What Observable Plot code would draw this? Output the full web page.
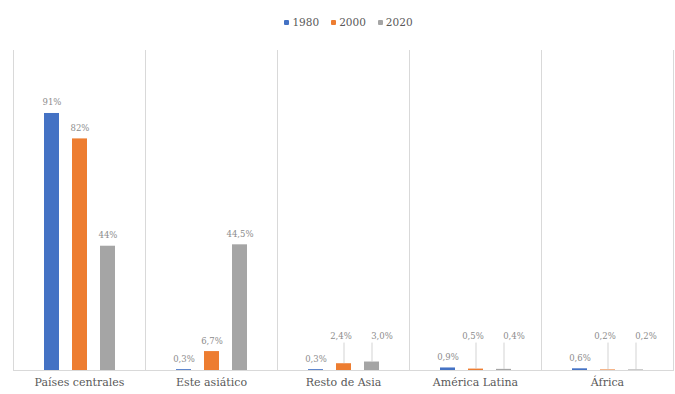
<!DOCTYPE html>
<html>
<head>
<meta charset="utf-8">
<script src="https://cdn.jsdelivr.net/npm/d3@7"></script>
<script src="https://cdn.jsdelivr.net/npm/@observablehq/plot@0.6"></script>
<style>
  body { margin: 0; background: #fff; font-family: "DejaVu Serif", serif; }
  #legend { height: 44px; display: flex; justify-content: center; align-items: center; gap: 12px; padding-left: 22px; box-sizing: border-box; font-size: 10.5px; color: #595959; font-family: "DejaVu Serif", serif; }
  #legend span.item { display: flex; align-items: center; gap: 3px; }
  #legend i { display: inline-block; width: 5px; height: 5px; border-radius: 1px; }
  svg { display: block; }
  #chart svg, #chart svg text { font-family: "DejaVu Serif", serif !important; }
</style>
</head>
<body>
<div id="legend"></div>
<div id="chart"></div>
<script>
const categories = ["Países centrales", "Este asiático", "Resto de Asia", "América Latina", "África"];
const years = ["1980", "2000", "2020"];
const colors = ["#4472C4", "#ED7D31", "#A5A5A5"];
const values1980 = [91, 0.3, 0.3, 0.9, 0.6];
const values2000 = [82, 6.7, 2.4, 0.5, 0.2];
const values2020 = [44, 44.5, 3.0, 0.4, 0.2];
const labels1980 = ["91%", "0,3%", "0,3%", "0,9%", "0,6%"];
const labels2000 = ["82%", "6,7%", "2,4%", "0,5%", "0,2%"];
const labels2020 = ["44%", "44,5%", "3,0%", "0,4%", "0,2%"];

const series = [values1980, values2000, values2020];
const seriesLabels = [labels1980, labels2000, labels2020];
const data = [];
categories.forEach((c, i) => years.forEach((y, j) => {
  data.push({category: c, year: y, value: series[j][i], label: seriesLabels[j][i]});
}));

const LIFT = 11.2;
const lifted = d => d.year !== "1980" && d.value < 5;
const labelData = data.map(d => ({...d, ly: lifted(d) ? LIFT : d.value, lifted: lifted(d)}));

const legend = document.getElementById("legend");
years.forEach((y, j) => {
  const s = document.createElement("span");
  s.className = "item";
  s.innerHTML = `<i style="background:${colors[j]}"></i>${y}`;
  legend.appendChild(s);
});

const chart = Plot.plot({
  width: 675,
  height: 350,
  marginTop: 6,
  marginBottom: 24,
  marginLeft: 12,
  marginRight: 1,
  style: {fontFamily: "'DejaVu Serif', serif", background: "#fff"},
  fx: {domain: categories, padding: 0, label: null},
  x: {domain: years, paddingInner: 0.47, paddingOuter: 1.08, axis: null},
  y: {domain: [0, 113.3], axis: null},
  color: {domain: years, range: colors},
  marks: [
    Plot.frame({anchor: "left", stroke: "#d9d9d9"}),
    Plot.frame({anchor: "right", stroke: "#d9d9d9"}),
    Plot.ruleY([0], {stroke: "#d9d9d9"}),
    Plot.barY(data, {fx: "category", x: "year", y: "value", fill: "year"}),
    Plot.ruleX(labelData.filter(d => d.lifted), {fx: "category", x: "year", y1: "value", y2: LIFT - 1.5, stroke: "#c8c8c8", strokeWidth: 0.8}),
    Plot.text(labelData.filter(d => !d.lifted), {
      fx: "category", x: "year", y: "ly", text: "label",
      dy: -8, fill: "#8c8c8c", fontSize: 8.5, lineAnchor: "bottom"
    }),
    Plot.text(labelData.filter(d => d.lifted && d.year === "2000"), {
      fx: "category", x: "year", y: "ly", text: "label",
      dx: -3, fill: "#8c8c8c", fontSize: 8.5, lineAnchor: "bottom"
    }),
    Plot.text(labelData.filter(d => d.lifted && d.year === "2020"), {
      fx: "category", x: "year", y: "ly", text: "label",
      dx: 10, fill: "#8c8c8c", fontSize: 8.5, lineAnchor: "bottom"
    }),
    Plot.axisFx({anchor: "bottom", tickSize: 0, tickPadding: 8, fontSize: 11, color: "#595959", label: null})
  ]
});
document.getElementById("chart").appendChild(chart);
</script>
</body>
</html>
